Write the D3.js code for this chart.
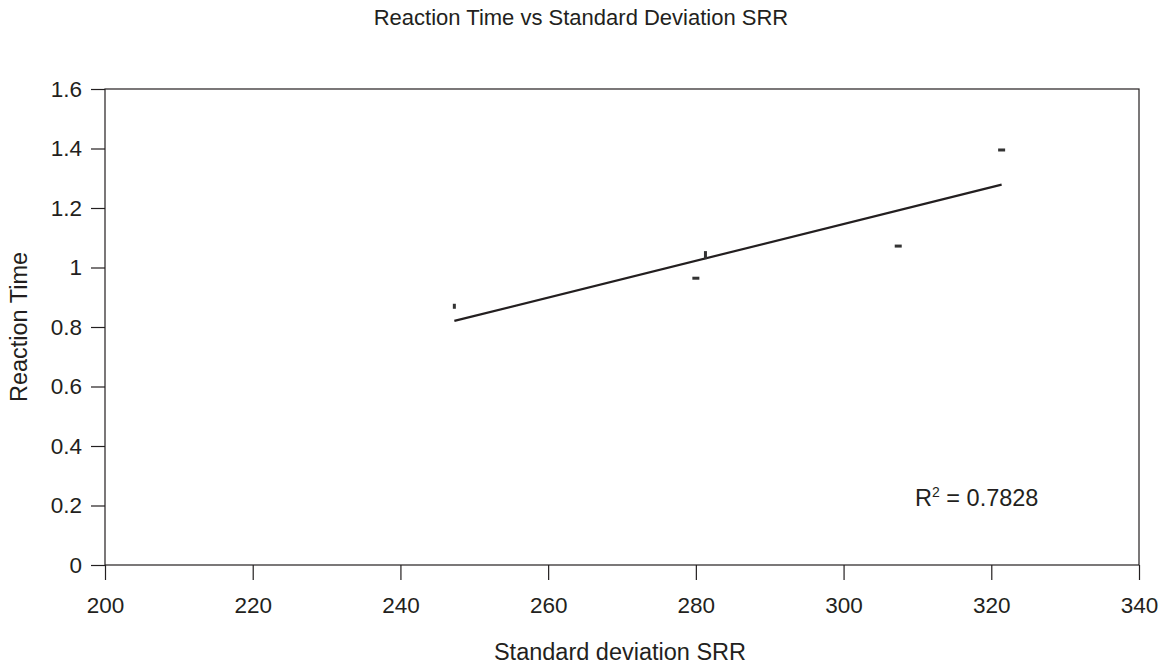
<!DOCTYPE html>
<html><head><meta charset="utf-8">
<script src="https://cdn.jsdelivr.net/npm/d3@7"></script>
<style>body{margin:0;background:#fff;}svg{display:block;font-family:"Liberation Sans",Arial,sans-serif;}</style>
</head><body><svg id="c" width="1162" height="667"></svg>
<script>
const sdSRR = [247.3, 281.3, 280.0, 307.4, 321.4];
const reactionTime = [0.868, 1.045, 0.964, 1.072, 1.395];
const markerOrient = ["v", "v", "h", "h", "h"];
const xTicks = [200, 220, 240, 260, 280, 300, 320, 340];
const yTicks = [0, 0.2, 0.4, 0.6, 0.8, 1, 1.2, 1.4, 1.6];
const r2Label = "0.7828";

const svg = d3.select("#c");
const m = {l:105, r:1139, t:89, b:565};
const x = d3.scaleLinear().domain([200,340]).range([m.l, m.r]);
const y = d3.scaleLinear().domain([0,1.6]).range([m.b, m.t]);
const col = "#231f20";

svg.append("rect").attr("x",m.l).attr("y",m.t).attr("width",m.r-m.l).attr("height",m.b-m.t)
  .attr("fill","none").attr("stroke",col).attr("stroke-width",1.2);

const ya = svg.append("g").attr("transform",`translate(${m.l},0)`)
  .call(d3.axisLeft(y).tickValues(yTicks).tickSize(14).tickPadding(9).tickFormat(d=>d3.format("")(+d.toFixed(1))));
const xa = svg.append("g").attr("transform",`translate(0,${m.b})`)
  .call(d3.axisBottom(x).tickValues(xTicks).tickSize(15).tickPadding(17));
[ya,xa].forEach(a=>{
  a.select(".domain").remove();
  a.selectAll("line").attr("stroke",col).attr("stroke-width",1.2);
  a.selectAll("text").attr("fill",col).attr("font-size",22.5).attr("font-family","Liberation Sans, Arial, sans-serif");
});

// regression line
const n = sdSRR.length;
const mx = d3.mean(sdSRR), my = d3.mean(reactionTime);
let sxy=0, sxx=0;
for(let i=0;i<n;i++){sxy+=(sdSRR[i]-mx)*(reactionTime[i]-my); sxx+=(sdSRR[i]-mx)**2;}
const slope = sxy/sxx, icpt = my - slope*mx;
const x0 = d3.min(sdSRR), x1 = d3.max(sdSRR);
svg.append("line").attr("x1",x(x0)).attr("y1",y(icpt+slope*x0))
  .attr("x2",x(x1)).attr("y2",y(icpt+slope*x1)).attr("stroke",col).attr("stroke-width",2.2);

// markers
svg.selectAll(".pt").data(sdSRR.map((v,i)=>({x:v,y:reactionTime[i],o:markerOrient[i]})))
  .enter().append("rect")
  .attr("x",d=>x(d.x)-(d.o==="h"?3.5:1.5))
  .attr("y",d=>y(d.y)-(d.o==="h"?1.5:3))
  .attr("width",d=>d.o==="h"?7:3)
  .attr("height",d=>d.o==="h"?3:(d.x>260?8:5))
  .attr("fill","#333");

svg.append("text").attr("x",581).attr("y",25).attr("text-anchor","middle")
  .attr("font-size",22).attr("fill",col).text("Reaction Time vs Standard Deviation SRR");
svg.append("text").attr("x",620).attr("y",660).attr("text-anchor","middle")
  .attr("font-size",23.5).attr("fill",col).text("Standard deviation SRR");
svg.append("text").attr("transform","translate(27,327) rotate(-90)").attr("text-anchor","middle")
  .attr("font-size",23.5).attr("fill",col).text("Reaction Time");
const t = svg.append("text").attr("x",915).attr("y",506).attr("font-size",23.5).attr("fill",col);
t.append("tspan").text("R");
t.append("tspan").attr("font-size",14).attr("dy",-9).text("2");
t.append("tspan").attr("dy",9).text(" = " + r2Label);
</script></body></html>
